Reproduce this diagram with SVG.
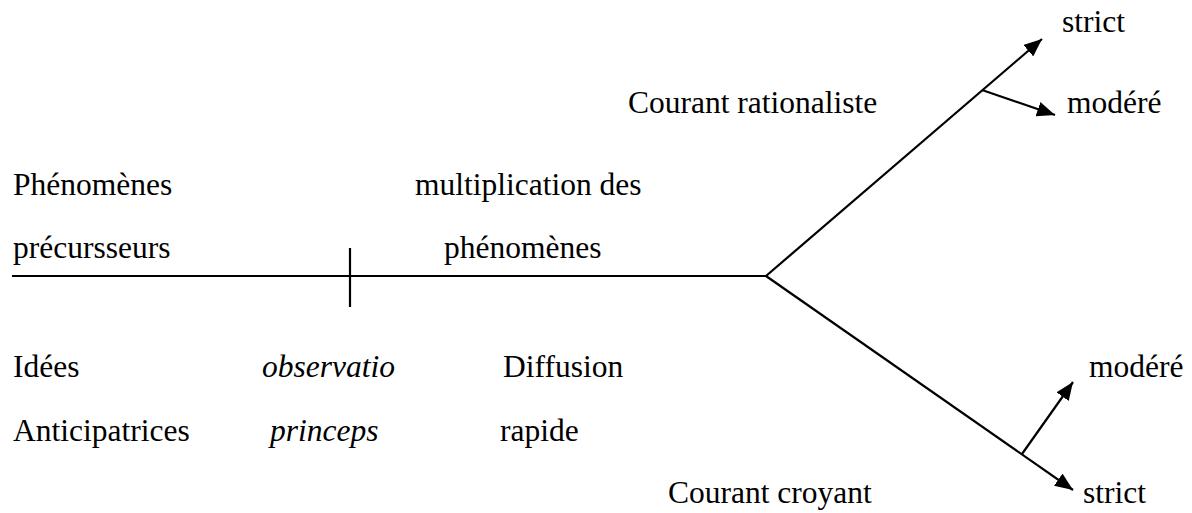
<svg xmlns="http://www.w3.org/2000/svg" width="1192" height="513" viewBox="0 0 1192 513">
  <style>
    text { font-family: "Liberation Serif", "Times New Roman", serif; font-size: 31.5px; fill: #000; }
    .it { font-style: italic; }
    .ln { stroke: #000; stroke-width: 2.2; fill: none; }
  </style>
  <defs>
    <marker id="arr" viewBox="0 0 18 15" refX="18" refY="7.5" markerWidth="18" markerHeight="15" markerUnits="userSpaceOnUse" orient="auto">
      <path d="M0,0 L18,7.5 L0,15 z" fill="#000"/>
    </marker>
  </defs>
  <rect width="1192" height="513" fill="#fff"/>

  <g id="connectors">
    <line class="ln" x1="12" y1="276" x2="766" y2="276"/>
    <line class="ln" x1="350" y1="248" x2="350" y2="307"/>
    <line class="ln" x1="766" y1="276" x2="1042" y2="39" marker-end="url(#arr)"/>
    <line class="ln" x1="982" y1="90" x2="1055" y2="115" marker-end="url(#arr)"/>
    <line class="ln" x1="766" y1="276" x2="1073" y2="490" marker-end="url(#arr)"/>
    <line class="ln" x1="1022" y1="454" x2="1073" y2="382" marker-end="url(#arr)"/>
  </g>

  <g id="node-precurseurs">
    <text x="13" y="195">Phénomènes</text>
    <text x="13" y="258">précursseurs</text>
  </g>
  <g id="node-multiplication">
    <text x="415" y="195">multiplication des</text>
    <text x="444" y="258">phénomènes</text>
  </g>
  <g id="node-idees">
    <text x="13" y="377">Idées</text>
    <text x="13" y="441">Anticipatrices</text>
  </g>
  <g id="node-observatio">
    <text class="it" x="262" y="377">observatio</text>
    <text class="it" x="270" y="441">princeps</text>
  </g>
  <g id="node-diffusion">
    <text x="503" y="377">Diffusion</text>
    <text x="500" y="441">rapide</text>
  </g>
  <g id="node-rationaliste">
    <text x="628" y="113">Courant rationaliste</text>
  </g>
  <g id="node-croyant">
    <text x="668" y="503">Courant croyant</text>
  </g>
  <g id="node-rat-strict">
    <text x="1062" y="32">strict</text>
  </g>
  <g id="node-rat-modere">
    <text x="1067" y="113">modéré</text>
  </g>
  <g id="node-croy-modere">
    <text x="1089" y="377">modéré</text>
  </g>
  <g id="node-croy-strict">
    <text x="1083" y="503">strict</text>
  </g>
</svg>
